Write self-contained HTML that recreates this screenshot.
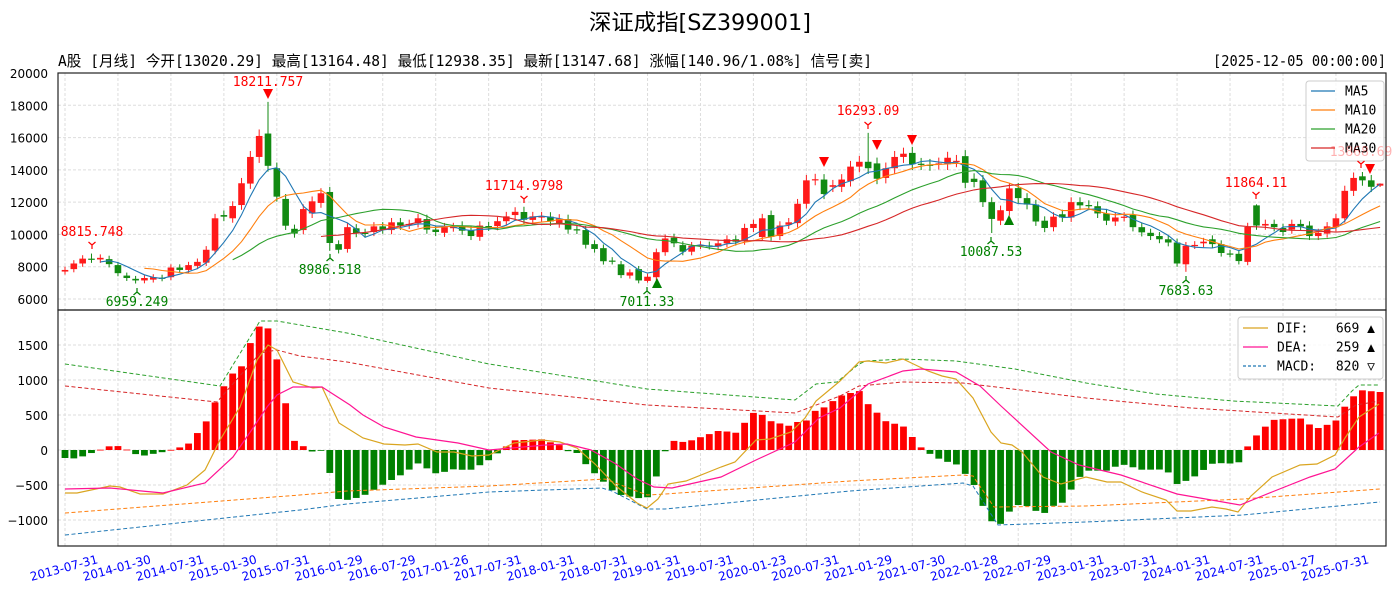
<!DOCTYPE html>
<html><head><meta charset="utf-8"><style>
html,body{margin:0;padding:0;background:#fff;}
svg{display:block;}
</style></head><body>
<svg id="s" width="1400" height="600" xmlns="http://www.w3.org/2000/svg" font-family="'DejaVu Sans','Noto Sans CJK SC',sans-serif">
<rect width="1400" height="600" fill="#fff"/>
<text x="700" y="30" text-anchor="middle" font-size="22" textLength="222" lengthAdjust="spacingAndGlyphs" font-family="'DejaVu Sans','Noto Sans CJK SC',sans-serif">深证成指[SZ399001]</text>
<text x="58" y="66" font-size="15" textLength="814" lengthAdjust="spacingAndGlyphs" font-family="'DejaVu Sans Mono','Noto Sans CJK SC',monospace">A股 [月线] 今开[13020.29] 最高[13164.48] 最低[12938.35] 最新[13147.68] 涨幅[140.96/1.08%] 信号[卖]</text>
<text x="1386" y="66" font-size="15" text-anchor="end" textLength="173" lengthAdjust="spacingAndGlyphs" font-family="'DejaVu Sans Mono',monospace">[2025-12-05 00:00:00]</text>
<g id="g"></g>
</svg>
<script>
var D=[[7700,7800],[7850,8200],[8200,8500],[8500,8450],[8450,8550],[8470,8160],[8100,7600],[7450,7300],[7250,7150],[7150,7300],[7200,7350],[7320,7280],[7350,7950],[7950,7800],[7800,8100],[8050,8300],[8250,9050],[9000,11000],[11200,11100],[11000,11760],[11820,13170],[13150,14800],[14800,16100],[16250,14250],[14100,12340],[12200,10540],[10350,10050],[10270,11570],[11300,12050],[11950,12550],[12630,9470],[9400,9050],[9100,10450],[10380,10080],[10100,10050],[10150,10500],[10500,10300],[10270,10750],[10750,10550],[10600,10650],[10700,11000],[10950,10300],[10300,10150],[10100,10450],[10430,10460],[10550,10230],[10240,9900],[9850,10550],[10520,10480],[10520,10820],[10820,11120],[11200,11400],[11390,10910],[10900,11120],[11080,11120],[11100,10800],[10680,10980],[10950,10300],[10320,10280],[10270,9360],[9400,9100],[9150,8340],[8380,8350],[8150,7480],[7450,7650],[7850,7150],[7120,7380],[7350,8900],[8900,9750],[9800,9450],[9340,8930],[8930,9300],[9330,9350],[9320,9300],[9250,9450],[9450,9700],[9700,9550],[9600,10400],[10400,10650],[9840,11000],[11200,9850],[9900,10550],[10600,10750],[10700,11900],[11900,13350],[13380,13420],[13400,12500],[12950,13050],[12950,13400],[13300,14200],[14200,14500],[14500,14100],[14400,13450],[13500,14100],[14100,14800],[14800,15000],[15050,14350],[14380,14350],[14320,14300],[14380,14400],[14350,14750],[14530,14560],[14850,13200],[13450,13250],[13350,12000],[12000,10960],[10850,11500],[11450,12850],[12870,12250],[12250,11850],[11850,10800],[10850,10400],[10450,11100],[11250,11050],[11050,12000],[12000,11800],[11820,11800],[11750,11300],[11300,10850],[10800,11050],[11080,11100],[11200,10450],[10450,10130],[10100,9900],[9900,9700],[9700,9500],[9500,8200],[8150,9300],[9330,9350],[9450,9550],[9700,9400],[9400,8850],[8820,8800],[8800,8350],[8300,10460],[11800,10550],[10550,10650],[10650,10450],[10400,10150],[10300,10650],[10650,10500],[10550,9900],[9900,10100],[10050,10500],[10450,11000],[11000,12700],[12700,13500],[13600,13350],[13350,12950],[13020,13147]];
var SP={3:[8815,null],8:[null,6959],23:[18211,null],30:[null,8986],52:[11715,null],66:[null,7011],91:[16293,null],105:[null,10087],127:[null,7683],135:[11864,null],147:[13868,null],149:[13164,12938]};
function X(i){return 65+i*8.826;}
function Y(v){return 73+(20000-v)*226/14000;}
function Ym(v){return 450-v*0.07;}
var h='';
var L=58,R=1386;
for(var v=6000;v<=20000;v+=2000){h+='<line x1="'+L+'" x2="'+R+'" y1="'+Y(v)+'" y2="'+Y(v)+'" stroke="#ddd" stroke-dasharray="3,2" stroke-width="1"/>';
h+='<text x="48" y="'+(Y(v)+5)+'" font-size="12" text-anchor="end">'+v+'</text>';}
for(var v=-1000;v<=1500;v+=500){h+='<line x1="'+L+'" x2="'+R+'" y1="'+Ym(v)+'" y2="'+Ym(v)+'" stroke="#ddd" stroke-dasharray="3,2" stroke-width="1"/>';
h+='<text x="48" y="'+(Ym(v)+5)+'" font-size="12" text-anchor="end">'+(v<0?'\u2212'+(-v):v)+'</text>';}
var labs=['2013-07-31','2014-01-30','2014-07-31','2015-01-30','2015-07-31','2016-01-29','2016-07-29','2017-01-26','2017-07-31','2018-01-31','2018-07-31','2019-01-31','2019-07-31','2020-01-23','2020-07-31','2021-01-29','2021-07-30','2022-01-28','2022-07-29','2023-01-31','2023-07-31','2024-01-31','2024-07-31','2025-01-27','2025-07-31'];
for(var k=0;k<labs.length;k++){var x=X(k*6);
h+='<line x1="'+x+'" x2="'+x+'" y1="73" y2="546" stroke="#ddd" stroke-dasharray="3,2" stroke-width="1"/>';
h+='<text transform="translate('+x+',572) rotate(-15)" font-size="12" fill="#0000ff" text-anchor="middle">'+labs[k]+'</text>';}
var cl=D.map(function(d){return d[1];});
for(var i=0;i<D.length;i++){var o=D[i][0],c=D[i][1],up=c>=o;
var hi=Math.max(o,c)*1.025,lo=Math.min(o,c)*0.975;
if(SP[i]){if(SP[i][0])hi=SP[i][0];if(SP[i][1])lo=SP[i][1];}
var col=up?'#ff1a1a':'#128a12',x=X(i);
h+='<line x1="'+x+'" x2="'+x+'" y1="'+Y(hi)+'" y2="'+Y(lo)+'" stroke="'+col+'" stroke-width="1"/>';
var y1=Y(Math.max(o,c)),y2=Y(Math.min(o,c));if(y2-y1<1.2){y2=y1+1.2;}
h+='<rect x="'+(x-3.3)+'" y="'+y1+'" width="6.6" height="'+(y2-y1)+'" fill="'+col+'"/>';}
var mac=['#1f77b4','#ff7f0e','#2ca02c','#d62728'],per=[5,10,20,30];
for(var m=0;m<4;m++){var p=per[m],pts=[];for(var i=p-1;i<cl.length;i++){var s=0;for(var j=i-p+1;j<=i;j++)s+=cl[j];pts.push(X(i).toFixed(1)+','+Y(s/p).toFixed(1));}
h+='<polyline points="'+pts.join(' ')+'" fill="none" stroke="'+mac[m]+'" stroke-width="1.1"/>';}
function tdn(x,y,c){return '<path d="M'+x+' '+y+' L'+x+' '+(y+4)+' M'+x+' '+y+' L'+(x-3.5)+' '+(y-3)+' M'+x+' '+y+' L'+(x+3.5)+' '+(y-3)+'" stroke="'+c+'" stroke-width="1.2" fill="none"/>';}
function tup(x,y,c){return '<path d="M'+x+' '+y+' L'+x+' '+(y-4)+' M'+x+' '+y+' L'+(x-3.5)+' '+(y+3)+' M'+x+' '+y+' L'+(x+3.5)+' '+(y+3)+'" stroke="'+c+'" stroke-width="1.2" fill="none"/>';}
function txt(x,y,s,c,op){return '<text x="'+x+'" y="'+y+'" font-size="13" text-anchor="middle" fill="'+c+'"'+(op?' opacity="'+op+'"':'')+' font-family="\'DejaVu Sans Mono\',monospace">'+s+'</text>';}
function tri(x,y,c,dn){return dn?'<path d="M'+(x-5)+' '+(y-5)+' L'+(x+5)+' '+(y-5)+' L'+x+' '+(y+5)+'Z" fill="'+c+'"/>':'<path d="M'+(x-5)+' '+(y+5)+' L'+(x+5)+' '+(y+5)+' L'+x+' '+(y-5)+'Z" fill="'+c+'"/>';}
var RD='#ff0000',GR='#008000';
h+=txt(92,236,'8815.748',RD)+tdn(92,245,RD);
h+=txt(137,306,'6959.249',GR)+tup(137,292,GR);
h+=txt(268,86,'18211.757',RD)+tri(268,94,RD,1);
h+=txt(330,274,'8986.518',GR)+tup(330,258,GR);
h+=txt(524,190,'11714.9798',RD)+tdn(524,199,RD);
h+=txt(647,306,'7011.33',GR)+tup(647,291,GR)+tri(657,283,GR,0);
h+=txt(868,115,'16293.09',RD)+tdn(868,125,RD);
h+=tri(824,162,RD,1)+tri(877,145,RD,1)+tri(912,140,RD,1);
h+=txt(991,256,'10087.53',GR)+tup(991,241,GR)+tri(1009,220,GR,0);
h+=txt(1186,295,'7683.63',GR)+tup(1186,280,GR);
h+=txt(1256,187,'11864.11',RD)+tdn(1256,195,RD);
// MACD (digitized pixel paths)
var DIF=[[65,493],[77,493],[110,486],[120,487],[140,494],[163,494],[187,485],[205,470],[220,440],[240,407],[257,360],[268,345],[277,350],[293,382],[313,388],[322,387],[339,423],[363,438],[384,444],[405,445],[418,444],[437,452],[454,452],[472,456],[489,455],[514,443],[542,440],[560,442],[577,448],[595,464],[616,486],[637,503],[647,508],[658,499],[668,484],[686,481],[721,467],[735,462],[756,440],[770,439],[791,432],[805,418],[816,401],[840,381],[859,362],[868,361],[886,363],[903,359],[928,371],[942,376],[956,379],[973,398],[991,432],[1001,443],[1012,445],[1022,452],[1043,477],[1061,484],[1086,477],[1107,482],[1121,482],[1142,492],[1166,500],[1177,511],[1191,511],[1212,507],[1226,509],[1238,512],[1251,496],[1272,477],[1300,465],[1317,464],[1335,455],[1345,438],[1359,417],[1379,404]];
var DEA=[[65,489],[110,488],[163,493],[205,483],[233,457],[253,428],[267,407],[277,395],[293,387],[322,387],[350,405],[363,415],[384,427],[416,437],[458,443],[489,450],[546,445],[567,444],[591,450],[616,464],[637,479],[654,487],[672,488],[721,477],[756,460],[795,442],[819,418],[840,408],[868,384],[903,371],[921,369],[956,372],[980,386],[1001,406],[1051,452],[1079,465],[1121,475],[1177,494],[1240,505],[1272,492],[1310,477],[1335,469],[1359,447],[1379,433]];
function itp(a,x){if(x<=a[0][0])return a[0][1];for(var j=1;j<a.length;j++){if(x<=a[j][0]){var t=(x-a[j-1][0])/(a[j][0]-a[j-1][0]);return a[j-1][1]+t*(a[j][1]-a[j-1][1]);}}return a[a.length-1][1];}
for(var i=0;i<cl.length;i++){var x=X(i);var mv=2*((450-itp(DIF,x))-(450-itp(DEA,x)))/0.07;var y0=Ym(0),y1=Ym(mv);
h+='<rect x="'+(x-3.4)+'" y="'+Math.min(y0,y1)+'" width="6.8" height="'+Math.max(0.8,Math.abs(y1-y0))+'" fill="'+(mv>=0?'#ff0000':'#008000')+'"/>';}
function pl(a,c,dash,w){return '<polyline points="'+a+'" fill="none" stroke="'+c+'" stroke-width="'+(w||1)+'"'+(dash?' stroke-dasharray="4,2.5"':'')+'/>';}
h+=pl('65,364 220,386 260,321 277,321 347,333 489,364 647,389 795,400 816,384 837,382 859,364 866,361 903,359 956,361 1015,369 1086,383 1156,394 1233,401 1338,406 1352,391 1359,385 1380,385','#2ca02c',1);
h+=pl('65,386 217,402 260,353 277,350 300,356 347,362 489,388 647,405 795,413 840,396 859,386 903,382 963,383 1086,398 1191,408 1338,417 1356,405 1380,401','#d62728',1);
h+=pl('65,513 300,495 347,491 489,486 605,479 647,495 665,494 850,481 963,475 973,476 994,507 1086,506 1243,499 1380,489','#ff7f0e',1);
h+=pl('65,535 300,510 347,504 489,492 602,488 612,491 647,509 665,509 850,491 963,483 973,486 998,525 1086,522 1243,515 1380,502','#1f77b4',1);
h+=pl(DIF.map(function(p){return p.join(',');}).join(' '),'#daa520',0,1.2)+pl(DEA.map(function(p){return p.join(',');}).join(' '),'#ff1493',0,1.2);
h+='<rect x="'+L+'" y="73" width="'+(R-L)+'" height="237" fill="none" stroke="#222" stroke-width="1.2"/>';
h+='<rect x="'+L+'" y="310" width="'+(R-L)+'" height="236" fill="none" stroke="#222" stroke-width="1.2"/>';
h+='<rect x="1306" y="81" width="78" height="80" rx="3" fill="#fff" fill-opacity="0.8" stroke="#ccc"/>';
var nm=['MA5','MA10','MA20','MA30'],ly=[91,110,129,148];
for(var m=0;m<4;m++){h+='<line x1="1311" x2="1335" y1="'+ly[m]+'" y2="'+ly[m]+'" stroke="'+mac[m]+'" stroke-width="1.2"/><text x="1345" y="'+(ly[m]+4.5)+'" font-size="13" font-family="\'DejaVu Sans Mono\',monospace">'+nm[m]+'</text>';}
h+=txt(1361,156,'13868.69',RD,0.3)+tdn(1361,164,RD)+tri(1370,169,RD,1);
h+='<rect x="1238" y="317" width="145" height="62" rx="3" fill="#fff" fill-opacity="0.85" stroke="#ccc"/>';
var mn=['DIF:','DEA:','MACD:'],mvv=['669 \u25B2','259 \u25B2','820 \u25BD'],mc=['#daa520','#ff1493','#1f77b4'],my=[328,347,366];
for(var m=0;m<3;m++){h+='<line x1="1243" x2="1268" y1="'+my[m]+'" y2="'+my[m]+'" stroke="'+mc[m]+'" stroke-width="1.2"'+(m==2?' stroke-dasharray="3,2"':'')+'/><text x="1277" y="'+(my[m]+4.5)+'" font-size="13" font-family="\'DejaVu Sans Mono\',monospace">'+mn[m]+'</text><text x="1375" y="'+(my[m]+4.5)+'" font-size="13" text-anchor="end" font-family="\'DejaVu Sans Mono\',\'DejaVu Sans\',monospace">'+mvv[m]+'</text>';}
document.getElementById('g').innerHTML=h;
</script>
</body></html>
